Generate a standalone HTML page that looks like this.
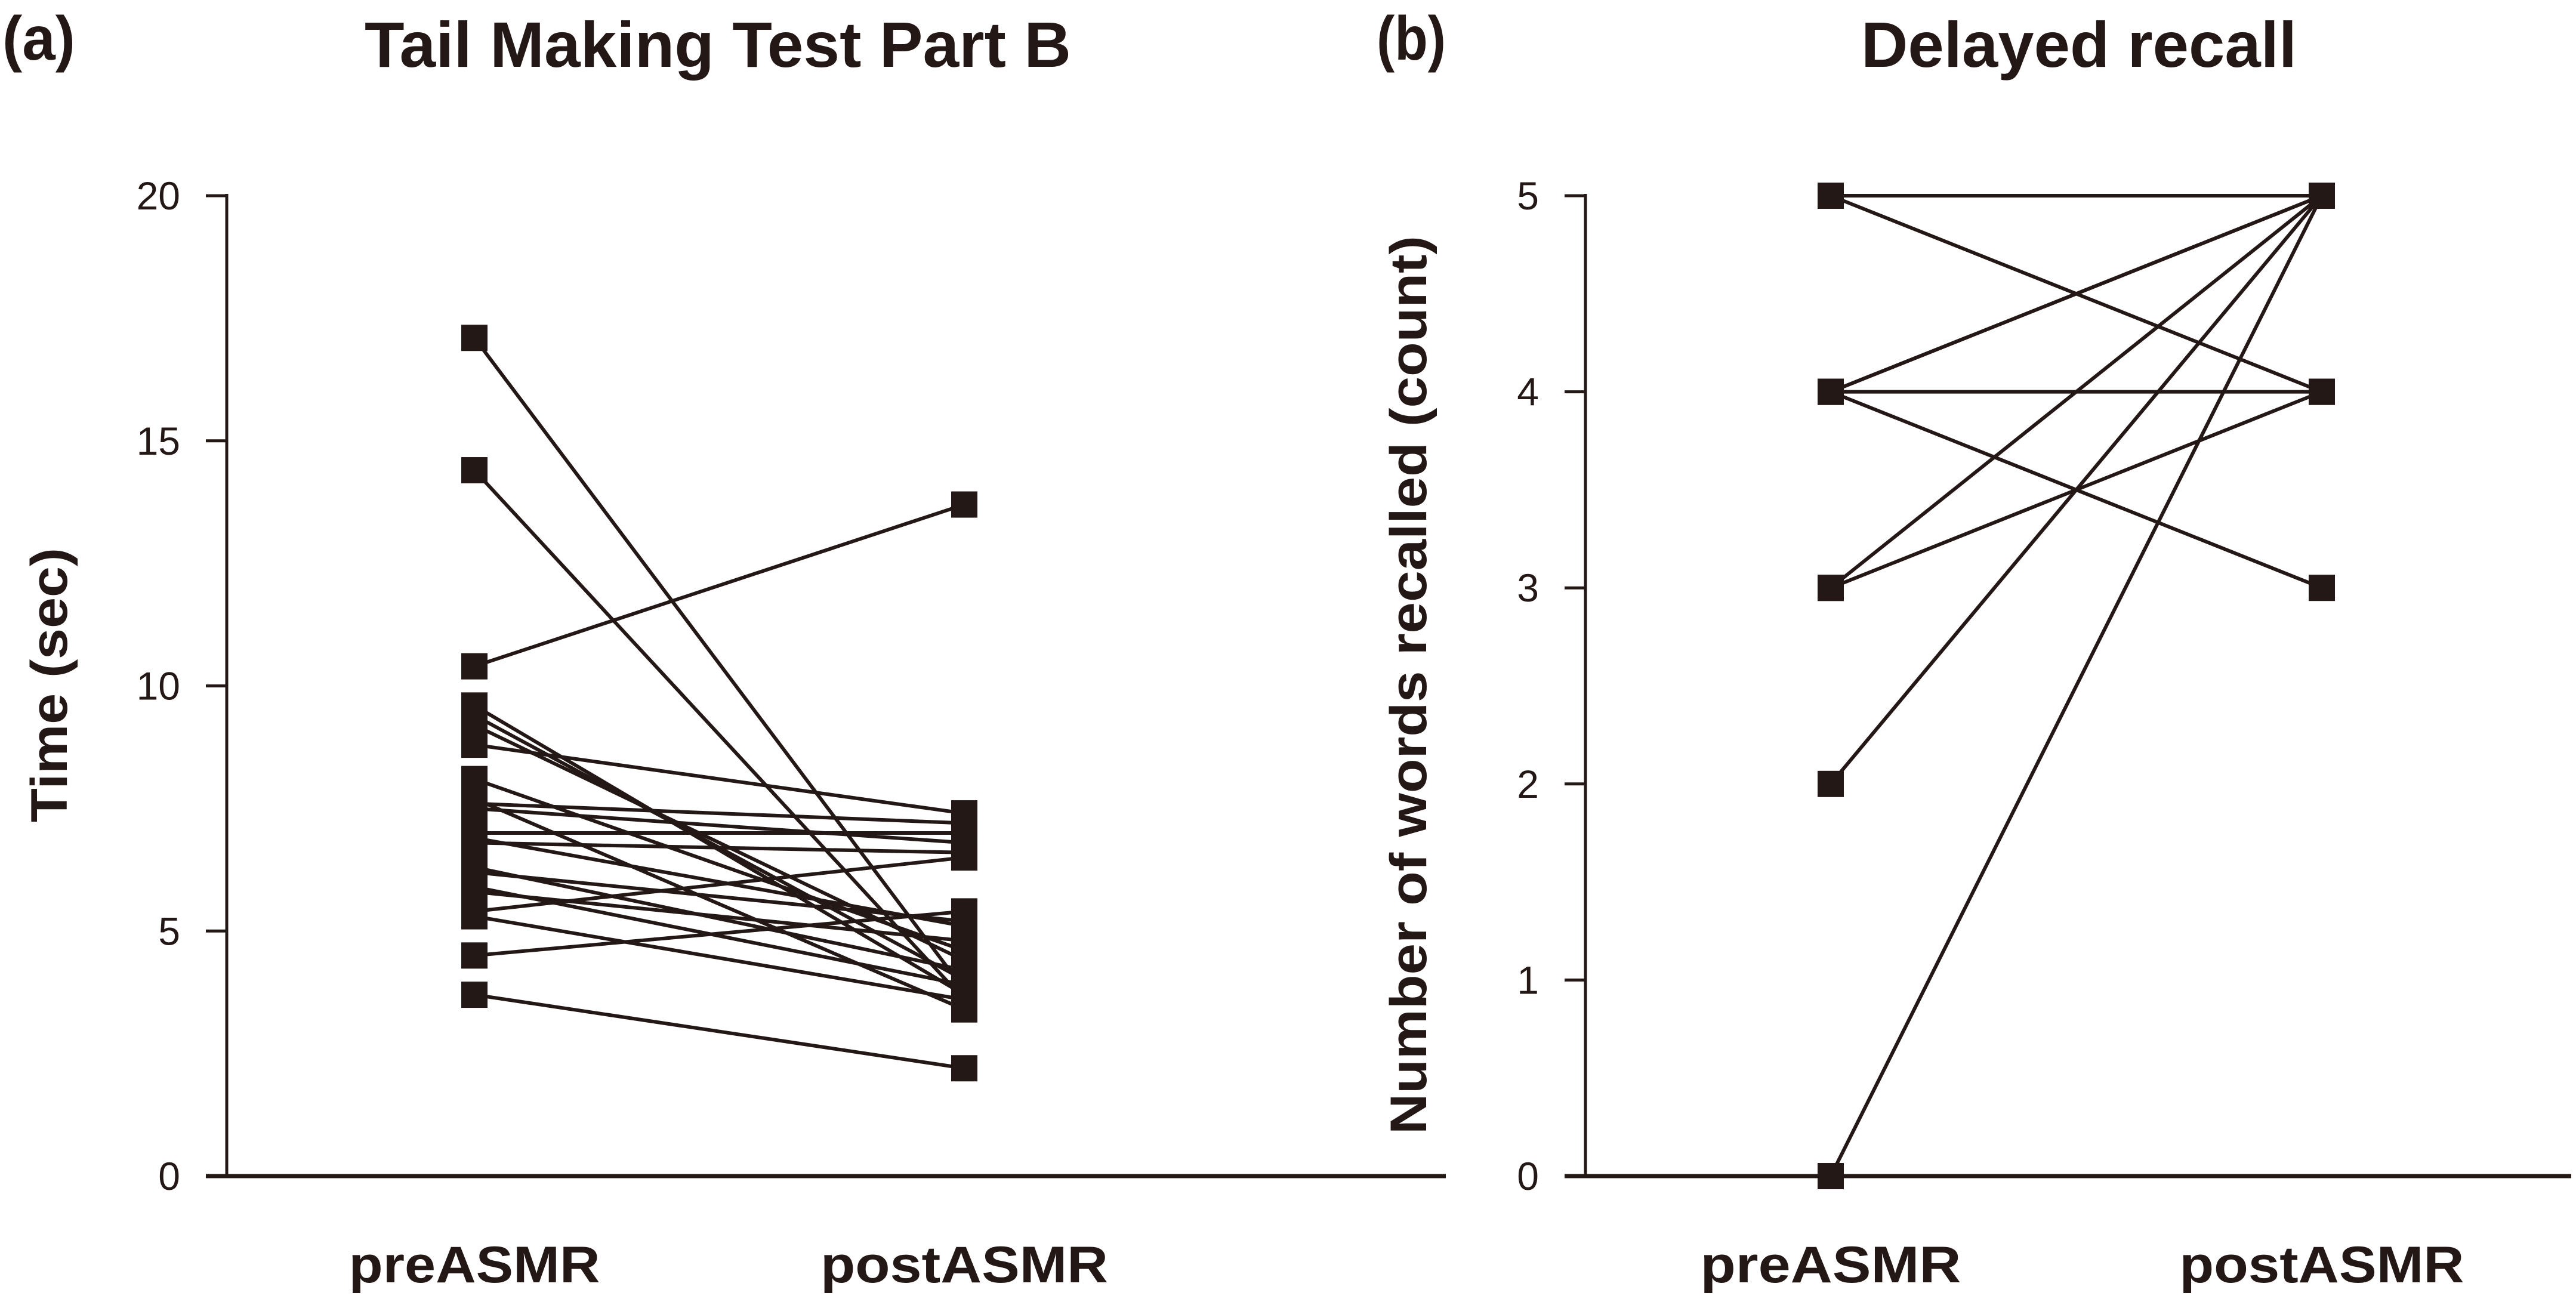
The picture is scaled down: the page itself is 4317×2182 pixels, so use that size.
<!DOCTYPE html>
<html><head><meta charset="utf-8"><style>
html,body{margin:0;padding:0;background:#fff;}
svg{display:block;}
text{font-family:"Liberation Sans Narrow","Liberation Sans",sans-serif;fill:#231815;}
</style></head><body>
<svg id="fig" width="4317" height="2182" viewBox="0 0 4317 2182" xmlns="http://www.w3.org/2000/svg">
<g id="panelA"></g>
<g id="panelB"></g>
</svg>
<script>
// Panel (a) data
const aCategories = ["preASMR","postASMR"];
const aPre  = [17.1,14.4,10.4,9.6,9.4,9.2,8.8,8.1,7.7,7.6,7.5,7.0,6.9,6.8,6.3,6.2,5.9,5.8,5.4,5.3,4.5,3.7];
const aPost = [3.8,3.6,13.7,3.7,4.0,4.4,7.4,4.6,3.4,7.2,6.8,7.0,5.1,6.6,4.2,5.2,3.9,4.8,6.5,3.6,5.4,2.2];
const aTicks = [0,5,10,15,20];
// Panel (b) data
const bCategories = ["preASMR","postASMR"];
const bPre  = [5,5,4,4,4,4,3,3,2,0];
const bPost = [5,4,5,5,4,3,5,4,5,5];
const bTicks = [0,1,2,3,4,5];

const NS="http://www.w3.org/2000/svg";
function mk(parent,tag,attrs,txt){const e=document.createElementNS(NS,tag);for(const k in attrs)e.setAttribute(k,attrs[k]);if(txt!==undefined)e.textContent=txt;parent.appendChild(e);return e;}

function drawPanel(g,cfg){
  const x0=cfg.axisX, x1=cfg.axisEnd, yTop=328, yBot=1971;
  const yScale=v=>yBot-(v-cfg.min)/(cfg.max-cfg.min)*(yBot-yTop);
  const xScale=i=>cfg.catX[i];
  let e;
  e=mk(g,"text",{x:cfg.labelX,y:100,"font-size":104,"font-weight":"bold",textLength:cfg.labelW,lengthAdjust:"spacingAndGlyphs"},cfg.label);
  
  
  e=mk(g,"text",{x:cfg.titleX0,y:112,"font-size":108,"font-weight":"bold",textLength:cfg.titleW,lengthAdjust:"spacingAndGlyphs"},cfg.title);
  
  
  e=mk(g,"line",{x1:x0,y1:yTop-3,x2:x0,y2:yBot,stroke:"#231815","stroke-width":5});
  
  
  e=mk(g,"line",{x1:x0-35,y1:yBot,x2:x1,y2:yBot,stroke:"#231815","stroke-width":7});
  
  
  cfg.ticks.forEach(t=>{
    const y=yScale(t);
    let tl=mk(g,"line",{x1:x0-35,y1:y,x2:x0,y2:y,stroke:"#231815","stroke-width":5});
    
    
    let tt=mk(g,"text",{x:x0-78,y:y+23,"font-size":66,"text-anchor":"end"},String(t));
    
    
  });
  e=mk(g,"text",{x:0,y:0,"font-size":86,"font-weight":"bold","text-anchor":"middle",textLength:cfg.yTitleW,lengthAdjust:"spacingAndGlyphs",transform:`translate(${cfg.yTitleX},1148) rotate(-90)`},cfg.yTitle);
  
  
  cfg.cats.forEach((c,i)=>{
    let t=mk(g,"text",{x:xScale(i),y:2149,"font-size":86,"font-weight":"bold","text-anchor":"middle",textLength:cfg.catW[i],lengthAdjust:"spacingAndGlyphs"},c);
    
    
  });
  cfg.pre.forEach((v,i)=>{
    let l=mk(g,"line",{x1:xScale(0),y1:yScale(v),x2:xScale(1),y2:yScale(cfg.post[i]),stroke:"#231815","stroke-width":6});
    
    
  });
  const m=44;
  [cfg.pre,cfg.post].forEach((arr,ci)=>{
    arr.forEach(v=>{
      let r=mk(g,"rect",{x:xScale(ci)-m/2,y:yScale(v)-m/2,width:m,height:m,fill:"#231815"});
      
      
    });
  });
}
drawPanel(document.getElementById('panelA'),{axisX:380,axisEnd:2423,min:0,max:20,catX:[795,1616],catW:[421,482],ticks:aTicks,pre:aPre,post:aPost,cats:aCategories,label:"(a)",labelX:4,labelW:122,title:"Tail Making Test Part B",titleX0:611,titleW:1184,yTitle:"Time (sec)",yTitleX:112,yTitleW:460});
drawPanel(document.getElementById('panelB'),{axisX:2657,axisEnd:4309,min:0,max:5,catX:[3068,3891],catW:[437,477],ticks:bTicks,pre:bPre,post:bPost,cats:bCategories,label:"(b)",labelX:2307,labelW:116,title:"Delayed recall",titleX0:3119,titleW:730,yTitle:"Number of words recalled (count)",yTitleX:2390,yTitleW:1506});
</script>
</body></html>
